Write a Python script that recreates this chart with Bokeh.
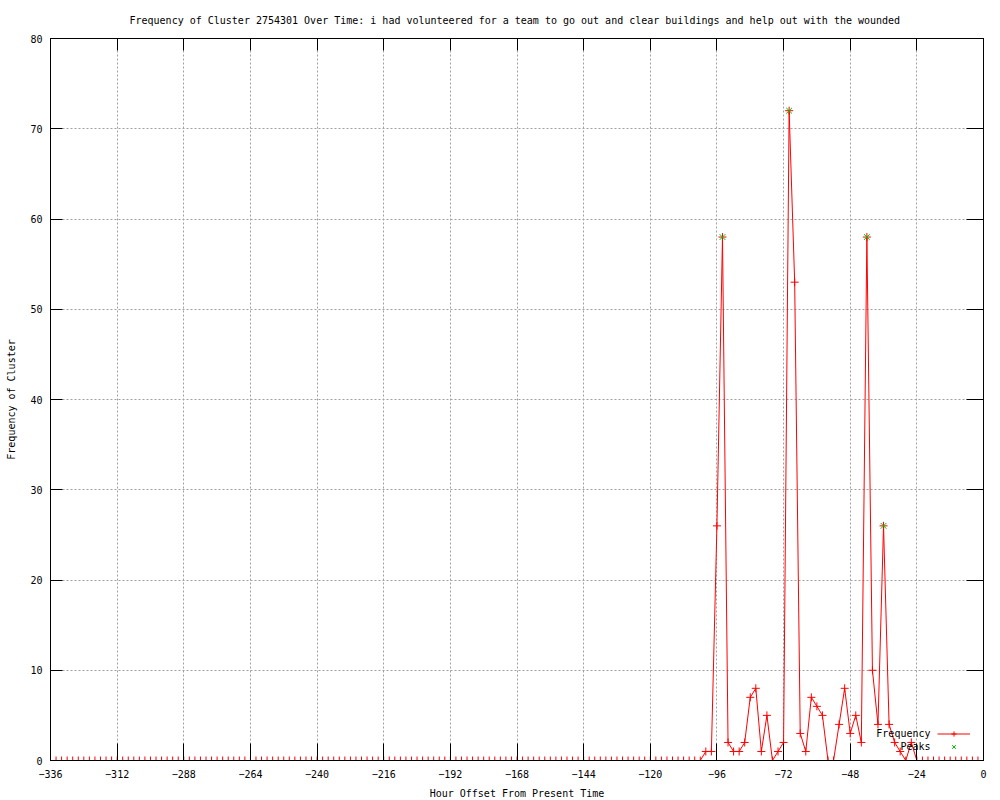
from bokeh.plotting import figure
from bokeh.models import (Range1d, FixedTicker, LinearAxis, Grid, Label, Legend, LegendItem)
from bokeh.embed import file_html
from bokeh.resources import INLINE

# ---------------- data ----------------
hours = [
    -336, -334, -332, -330, -328, -326, -324, -322, -320, -318, -316, -314,
    -312, -310, -308, -306, -304, -302, -300, -298, -296, -294, -292, -290,
    -288, -286, -284, -282, -280, -278, -276, -274, -272, -270, -268, -266,
    -264, -262, -260, -258, -256, -254, -252, -250, -248, -246, -244, -242,
    -240, -238, -236, -234, -232, -230, -228, -226, -224, -222, -220, -218,
    -216, -214, -212, -210, -208, -206, -204, -202, -200, -198, -196, -194,
    -192, -190, -188, -186, -184, -182, -180, -178, -176, -174, -172, -170,
    -168, -166, -164, -162, -160, -158, -156, -154, -152, -150, -148, -146,
    -144, -142, -140, -138, -136, -134, -132, -130, -128, -126, -124, -122,
    -120, -118, -116, -114, -112, -110, -108, -106, -104, -102, -100, -98,
    -96, -94, -92, -90, -88, -86, -84, -82, -80, -78, -76, -74,
    -72, -70, -68, -66, -64, -62, -60, -58, -56, -54, -52, -50,
    -48, -46, -44, -42, -40, -38, -36, -34, -32, -30, -28, -26,
    -24, -22, -20, -18, -16, -14, -12, -10, -8, -6, -4, -2,
    0,
]
frequency = [
    0, 0, 0, 0, 0, 0, 0, 0, 0, 0, 0, 0,
    0, 0, 0, 0, 0, 0, 0, 0, 0, 0, 0, 0,
    0, 0, 0, 0, 0, 0, 0, 0, 0, 0, 0, 0,
    0, 0, 0, 0, 0, 0, 0, 0, 0, 0, 0, 0,
    0, 0, 0, 0, 0, 0, 0, 0, 0, 0, 0, 0,
    0, 0, 0, 0, 0, 0, 0, 0, 0, 0, 0, 0,
    0, 0, 0, 0, 0, 0, 0, 0, 0, 0, 0, 0,
    0, 0, 0, 0, 0, 0, 0, 0, 0, 0, 0, 0,
    0, 0, 0, 0, 0, 0, 0, 0, 0, 0, 0, 0,
    0, 0, 0, 0, 0, 0, 0, 0, 0, 0, 1, 1,
    26, 58, 2, 1, 1, 2, 7, 8, 1, 5, 0, 1,
    2, 72, 53, 3, 1, 7, 6, 5, 0, 0, 4, 8,
    3, 5, 2, 58, 10, 4, 26, 4, 2, 1, 0, 2,
    0, 0, 0, 0, 0, 0, 0, 0, 0, 0, 0, 0,
    0,
]
peak_hours = [-94, -70, -42, -36]
peak_values = [58, 72, 58, 26]

x_ticks = [-336, -312, -288, -264, -240, -216, -192, -168, -144, -120, -96, -72, -48, -24, 0]
y_ticks = [0, 10, 20, 30, 40, 50, 60, 70, 80]

title_text = ("Frequency of Cluster 2754301 Over Time: i had volunteered for a team "
              "to go out and clear buildings and help out with the wounded")
x_label = "Hour Offset From Present Time"
y_label = "Frequency of Cluster"
legend_labels = ["Frequency", "Peaks"]

# ---------------- style ----------------
FONT = "DejaVu Sans Mono"
FS = "10px"
RED = "#ff0000"
GREEN = "#00c000"
GRID = "#a0a0a0"

p = figure(frame_width=933, frame_height=722,
           x_range=Range1d(-336, 0), y_range=Range1d(0, 80),
           x_axis_type=None, y_axis_type=None,
           output_backend="svg", toolbar_location=None,
           min_border_left=50, min_border_right=17,
           min_border_top=38, min_border_bottom=38)

p.background_fill_color = "white"
p.border_fill_color = "white"
p.outline_line_color = "black"
p.outline_line_width = 1

p.title.text = title_text
p.title.align = "left"
p.title.offset = 79
p.title.vertical_align = "middle"
p.title.standoff = 24
p.title.text_font = FONT
p.title.text_font_size = FS
p.title.text_font_style = "normal"
p.title.text_color = "black"

xt = FixedTicker(ticks=x_ticks, minor_ticks=[])
yt = FixedTicker(ticks=y_ticks, minor_ticks=[])


def make_axis(ticker, tick_len, show_labels, label=None, label_standoff=0, lab_standoff=6):
    ax = LinearAxis(ticker=ticker)
    ax.axis_line_color = "black"
    ax.major_tick_line_color = "black"
    ax.major_tick_in = tick_len
    ax.major_tick_out = 0
    ax.minor_tick_line_color = None
    ax.major_label_text_font = FONT
    if show_labels:
        ax.major_label_text_font_size = FS
        ax.major_label_text_color = "black"
        ax.major_label_standoff = lab_standoff
    else:
        ax.major_label_text_font_size = "0px"
        ax.major_label_text_alpha = 0
        ax.major_label_standoff = 0
    if label:
        ax.axis_label = label
        ax.axis_label_text_font = FONT
        ax.axis_label_text_font_size = FS
        ax.axis_label_text_font_style = "normal"
        ax.axis_label_text_color = "black"
        ax.axis_label_standoff = label_standoff
    return ax


p.add_layout(make_axis(xt, 17, True, x_label, 7, 9), "below")
p.add_layout(make_axis(yt, 12, True, y_label, 10, 8), "left")
p.add_layout(make_axis(xt, 12, False), "above")
p.add_layout(make_axis(yt, 17, False), "right")

p.add_layout(Grid(dimension=0, ticker=xt, grid_line_color=GRID, grid_line_dash="2 2"))
p.add_layout(Grid(dimension=1, ticker=yt, grid_line_color=GRID, grid_line_dash="2 2"))

freq_line = p.line(hours, frequency, line_color=RED, line_width=1)
freq_pts = p.scatter(hours, frequency, marker="cross", size=8, line_color=RED, line_width=1)
peak_pts = p.scatter(peak_hours, peak_values, marker="x", size=8, line_color=GREEN, line_width=1)

# gnuplot-style key: text on the left, sample on the right
legend = Legend(items=[LegendItem(label=" ", renderers=[freq_line, freq_pts]),
                       LegendItem(label=" ", renderers=[peak_pts])],
                location=(887, 7), orientation="vertical",
                padding=0, margin=0, spacing=0,
                glyph_width=33, glyph_height=13,
                label_width=0, label_height=13, label_standoff=0,
                label_text_font_size="1px",
                border_line_alpha=0, background_fill_alpha=0)
p.add_layout(legend)

for txt, yy in zip(legend_labels, [27, 14]):
    p.add_layout(Label(x=880, y=yy, x_units="screen", y_units="screen", text=txt,
                       text_align="right", text_baseline="middle",
                       text_font=FONT, text_font_size=FS, text_color="black"))

open("out.html", "w").write(file_html(p, INLINE))
